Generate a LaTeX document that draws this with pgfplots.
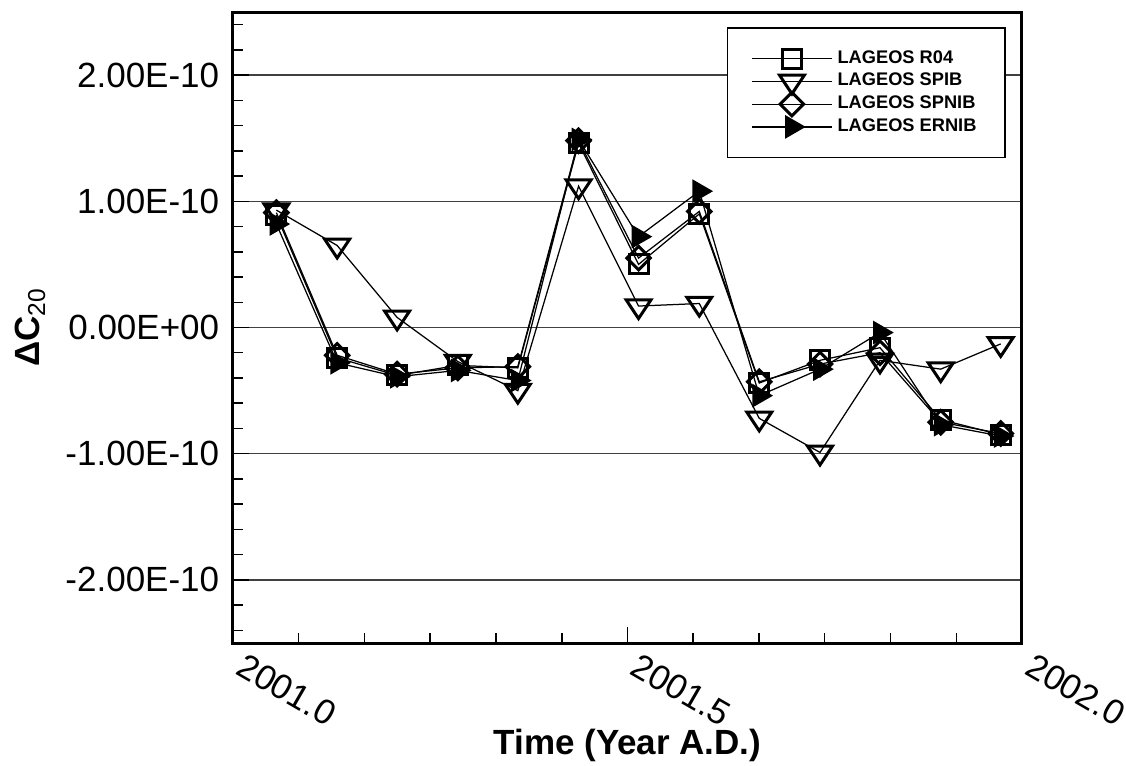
\documentclass[border=0pt]{standalone}
\usepackage{fontspec}
\setmainfont{Liberation Sans}
\usepackage{pgfplots}
\usepackage{pgfplotstable}
\pgfplotsset{compat=1.18}

% Monthly Delta C20 estimates from the four LAGEOS solutions
\pgfplotstableread{
t         r04       spib      spnib     ernib
2001.055  0.89e-10  0.93e-10  0.91e-10  0.82e-10
2001.132 -0.24e-10  0.65e-10 -0.22e-10 -0.28e-10
2001.208 -0.38e-10  0.08e-10 -0.37e-10 -0.39e-10
2001.285 -0.30e-10 -0.27e-10 -0.32e-10 -0.34e-10
2001.361 -0.32e-10 -0.50e-10 -0.31e-10 -0.42e-10
2001.438  1.46e-10  1.12e-10  1.48e-10  1.49e-10
2001.514  0.50e-10  0.17e-10  0.55e-10  0.72e-10
2001.591  0.90e-10  0.19e-10  0.92e-10  1.08e-10
2001.667 -0.44e-10 -0.72e-10 -0.43e-10 -0.54e-10
2001.744 -0.26e-10 -0.99e-10 -0.29e-10 -0.33e-10
2001.820 -0.16e-10 -0.26e-10 -0.20e-10 -0.04e-10
2001.897 -0.73e-10 -0.33e-10 -0.75e-10 -0.77e-10
2001.973 -0.85e-10 -0.13e-10 -0.84e-10 -0.86e-10
}\lageos

\begin{document}
\begin{tikzpicture}
\path[use as bounding box] (-93.2pt,-48.8pt) rectangle (357.2pt,257.2pt);
\begin{axis}[
  at={(0,0)}, anchor=south west,
  scale only axis, width=315.6pt, height=252.4pt,
  xmin=2001, xmax=2002, ymin=-2.5e-10, ymax=2.5e-10,
  axis line style={line width=1.2pt},
  tick pos=left, tick align=inside,
  xtick={2001,2001.5,2002},
  xticklabels={2001.0,2001.5,2002.0},
  minor xtick={2001.0833,2001.1667,2001.25,2001.3333,2001.4167,
               2001.5833,2001.6667,2001.75,2001.8333,2001.9167},
  ytick={-2e-10,-1e-10,0,1e-10,2e-10},
  yticklabels={-2.00E-10,-1.00E-10,0.00E+00,1.00E-10,2.00E-10},
  minor ytick={-2.4e-10,-2.2e-10,-1.8e-10,-1.6e-10,-1.4e-10,-1.2e-10,
               -0.8e-10,-0.6e-10,-0.4e-10,-0.2e-10,
               0.2e-10,0.4e-10,0.6e-10,0.8e-10,
               1.2e-10,1.4e-10,1.6e-10,1.8e-10,2.2e-10,2.4e-10},
  scaled y ticks=false, scaled x ticks=false,
  major tick length=6.5pt, minor tick length=4pt,
  tick style={black, line width=0.6pt},
  ymajorgrids, major grid style={black!75, line width=0.6pt},
  tick label style={font=\fontsize{14}{16}\selectfont},
  yticklabel style={xshift=-2pt},
  xticklabel style={rotate=-30, anchor=north west, xshift=3pt, yshift=3pt},
  xlabel={\textbf{Time (Year A.D.)}},
  xlabel style={at={(axis description cs:0.5,-0.1625)}, anchor=center,
                font=\fontsize{14}{16}\selectfont},
  ylabel={\textbf{ΔC}\textsubscript{20}},
  ylabel style={at={(axis description cs:-0.257,0.5)}, anchor=center,
                font=\fontsize{14}{16}\selectfont},
  legend style={at={(rel axis cs:0.9797,0.976)}, anchor=north east,
                draw=black, line width=0.6pt, fill=white,
                font=\bfseries\fontsize{7.3}{8}\selectfont,
                inner xsep=9.5pt, inner ysep=7pt, row sep=-1.5pt,
                cells={anchor=west}},
  legend image code/.code={%
    \draw[mark repeat=2, mark phase=2] plot coordinates {(0pt,0pt) (16pt,0pt) (32pt,0pt)};},
  every axis plot/.append style={black, line width=0.5pt},
]
\addplot[mark=square, mark size=3.8pt, mark options={solid, line width=1.2pt}]
  table[x=t, y=r04] {\lageos};
\addlegendentry{LAGEOS R04}
\addplot[mark=triangle, mark size=5pt, mark options={solid, line width=1.2pt, rotate=180, xscale=1.15}]
  table[x=t, y=spib] {\lageos};
\addlegendentry{LAGEOS SPIB}
\addplot[mark=diamond, mark size=4.7pt, mark options={solid, line width=1.2pt, xscale=1.33}]
  table[x=t, y=spnib] {\lageos};
\addlegendentry{LAGEOS SPNIB}
\addplot[mark=triangle*, mark size=4.9pt, mark options={solid, fill=black, line width=0.6pt, rotate=-90}]
  table[x=t, y=ernib] {\lageos};
\addlegendentry{LAGEOS ERNIB}
\end{axis}
\end{tikzpicture}
\end{document}
